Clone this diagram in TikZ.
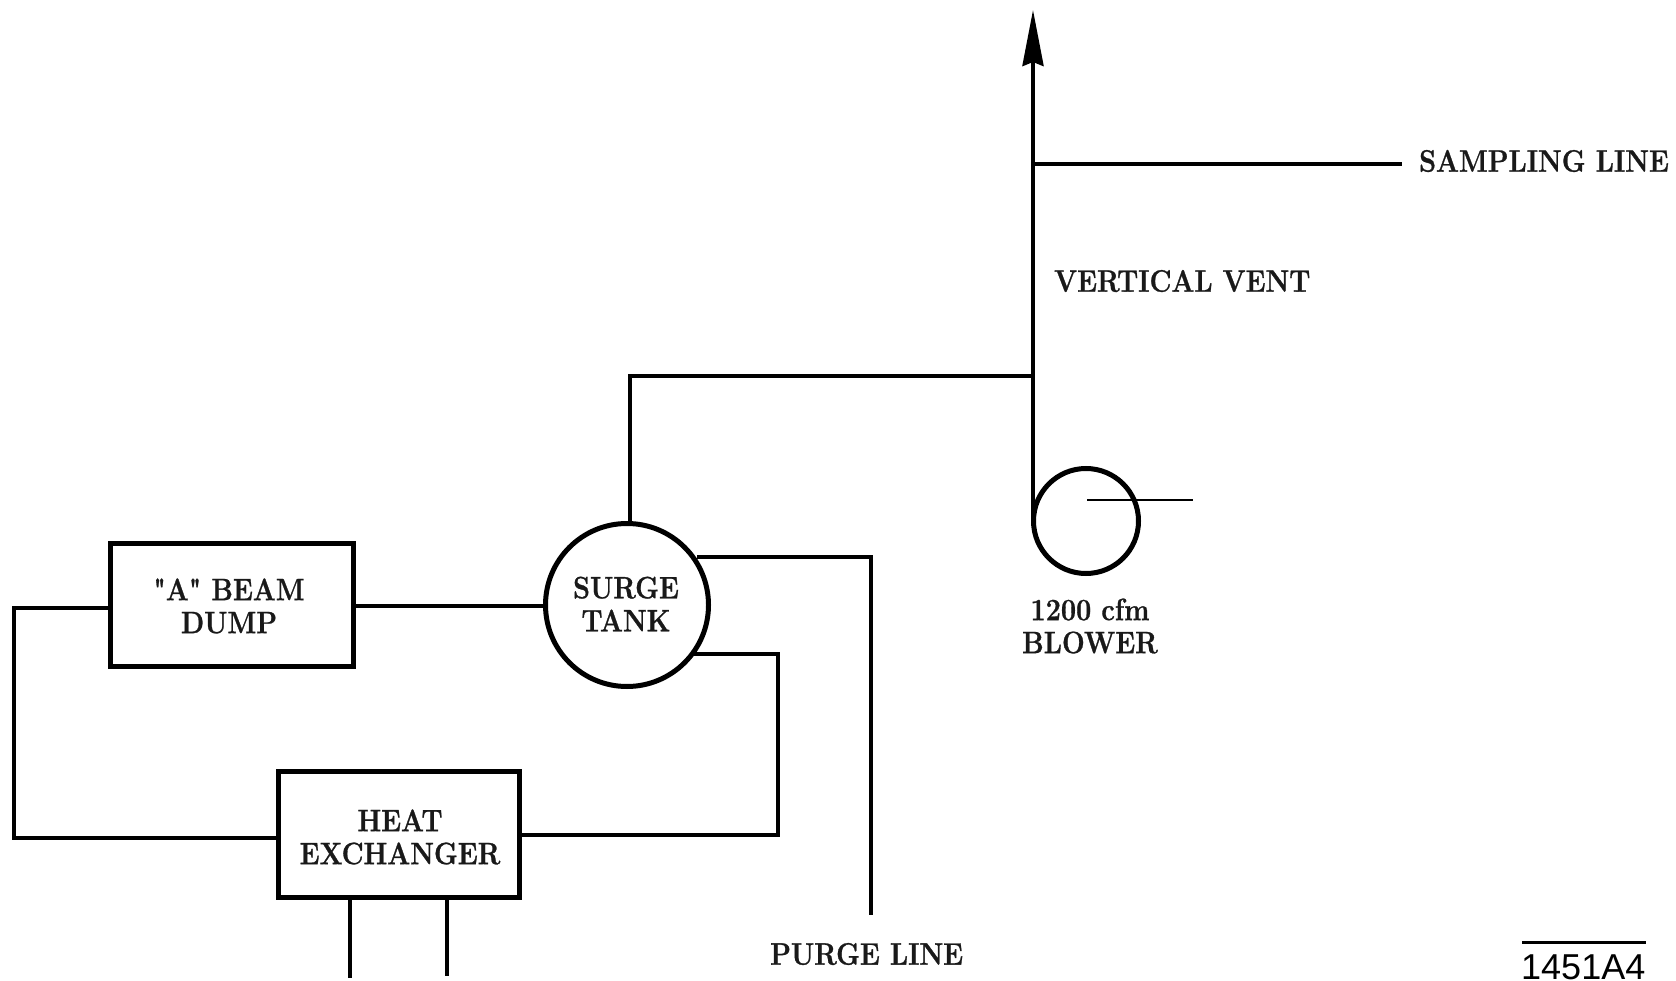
\documentclass[tikz,border=0pt]{standalone}
\usepackage{fontspec}
\newfontfamily\lblfont[FakeStretch=0.87,BoldFeatures={FakeBold=0.9}]{Latin Modern Roman}
\newfontfamily\numfont{Liberation Sans}
\usetikzlibrary{arrows.meta}
\tikzset{
 pipe/.style={line width=3.8pt,line join=miter},
 boxn/.style={draw,line width=5pt,outer sep=0pt,inner sep=0pt,anchor=north west},
 circ/.style={draw,circle,line width=5pt,outer sep=0pt,inner sep=0pt},
 lbl/.style={font=\lblfont\bfseries\fontsize{31}{33}\selectfont,align=center,inner sep=0pt,text=black!90}
}
\begin{document}
\begin{tikzpicture}[x=1pt,y=-1pt]
\useasboundingbox (0,0) rectangle (1676,981);
\node[boxn,minimum width=243pt,minimum height=123pt] (dump) at (110,543) {};
\node[boxn,minimum width=241pt,minimum height=126pt] (hx) at (278,771) {};
\node[circ,minimum size=163pt] (tank) at (627,605) {};
\node[circ,minimum size=105pt] (blower) at (1086,521) {};
\coordinate (top) at (1033,10);
\coordinate (ventjoin) at (1033,376);
\coordinate (sampjoin) at (1033,164);
\coordinate (sampend) at (1402,164);
\coordinate (blowerleft) at (1033,522);
\coordinate (b1) at (1087,500);
\coordinate (b2) at (1193,500);
\coordinate (tk1) at (630,376);
\coordinate (p1) at (871,557);
\coordinate (p2) at (871,915);
\coordinate (r1) at (778,654);
\coordinate (r2) at (778,835);
\coordinate (l1) at (14,608);
\coordinate (l2) at (14,838);
\coordinate (c1) at (350,898);
\coordinate (c2) at (350,978);
\coordinate (c3) at (447,898);
\coordinate (c4) at (447,976);
\draw[pipe,-{Stealth[length=56pt,width=21pt,inset=4pt]}] (blowerleft) -- (top);
\draw[pipe] (sampjoin) -- (sampend);
\draw[pipe] (ventjoin) -- (tk1) -- (630,524);
\draw[pipe] (354,606) -- (546,606);
\draw[pipe] (111,608) -- (l1) -- (l2) -- (279,838);
\draw[pipe] (520,835) -- (r2) -- (r1) -- (694,654);
\draw[pipe] (697,557) -- (p1) -- (p2);
\draw[pipe] (c1) -- (c2);
\draw[pipe] (c3) -- (c4);
\draw[line width=2.6pt] (b1) -- (b2);
\node[lbl] at (229,606) {"A" BEAM\\DUMP};
\node[lbl] at (400,837) {HEAT\\EXCHANGER};
\node[lbl] at (626,604) {SURGE\\TANK};
\node[lbl] at (1090,626) {1200 cfm\\BLOWER};
\node[lbl,anchor=west] at (1054,281) {VERTICAL VENT};
\node[lbl,anchor=west] at (1419,161) {SAMPLING LINE};
\node[lbl,anchor=west] at (770,954) {PURGE LINE};
\node[font=\fontsize{36}{36}\selectfont\numfont,anchor=base west,inner sep=0pt] (id) at (1521,979) {1451A4};
\draw[line width=3pt] (1522,942) -- (1646,942);
\end{tikzpicture}
\end{document}
